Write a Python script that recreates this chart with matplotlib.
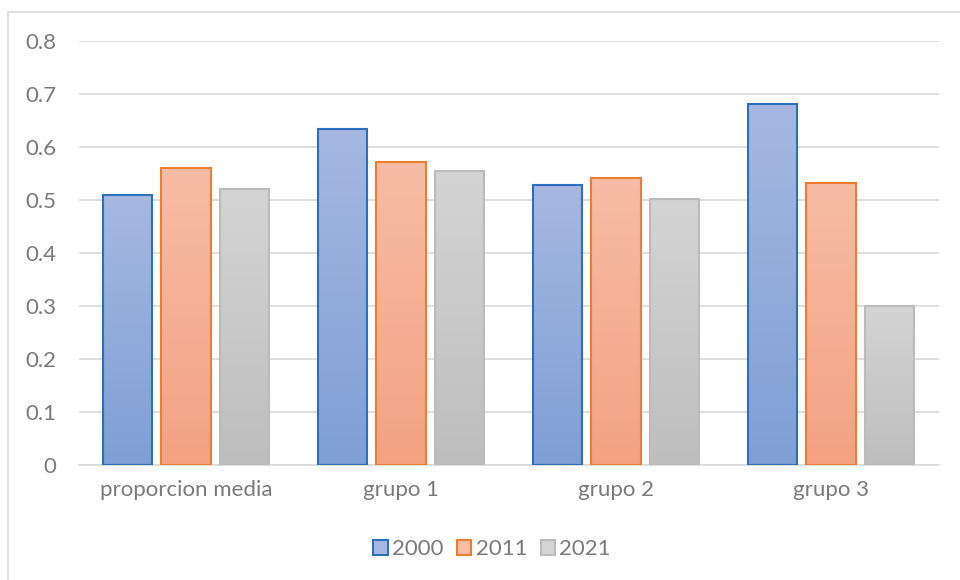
import numpy as np
import matplotlib
matplotlib.use("Agg")
import matplotlib.pyplot as plt
from matplotlib.colors import LinearSegmentedColormap
from matplotlib.patches import Rectangle

categories = ["proporcion media", "grupo 1", "grupo 2", "grupo 3"]
series_names = ["2000", "2011", "2021"]
v2000 = [0.51, 0.634, 0.528, 0.682]
v2011 = [0.56, 0.571, 0.542, 0.532]
v2021 = [0.52, 0.555, 0.501, 0.30]
y_ticks = [0, 0.1, 0.2, 0.3, 0.4, 0.5, 0.6, 0.7, 0.8]
y_tick_labels = ["0", "0.1", "0.2", "0.3", "0.4", "0.5", "0.6", "0.7", "0.8"]

values = [v2000, v2011, v2021]
top_colors = ["#A6B8E1", "#F7BCA6", "#D4D4D4"]
bot_colors = ["#7F9FD5", "#F3A283", "#BEBEBE"]
edge_colors = ["#2F6EBA", "#ED7D31", "#BBBBBB"]
text_color = "#7A7A7A"

plt.rcParams['font.family'] = ['Lato', 'DejaVu Sans']

fig = plt.figure(figsize=(9.6, 5.8), dpi=100)
ax = fig.add_axes([78.5/960, 1-465/580, 860/960, 424/580])

# outer border
fig.patches.append(Rectangle((8/960, -0.01), 1.02, 1 - 12/580 + 0.01,
                             transform=fig.transFigure, fill=False,
                             edgecolor="#D9D9D9", linewidth=1.2))

width = 0.228
step = 0.274
x = np.arange(len(categories))
grad = np.linspace(1, 0, 256).reshape(-1, 1)
for i, vals in enumerate(values):
    cmap = LinearSegmentedColormap.from_list("g%d" % i, [bot_colors[i], top_colors[i]])
    for j, v in enumerate(vals):
        x0 = x[j] + (i - 1) * step - width / 2
        ax.imshow(grad, extent=[x0, x0 + width, 0, v], cmap=cmap, aspect='auto',
                  vmin=0, vmax=1, zorder=2, interpolation='bilinear')
        ax.add_patch(Rectangle((x0, 0), width, v, fill=False,
                               edgecolor=edge_colors[i], linewidth=1.5, zorder=3))

ax.set_xlim(-0.5, len(categories) - 0.5)
ax.set_ylim(0, 0.8)
ax.set_aspect('auto')

ax.set_yticks(y_ticks)
ax.set_yticklabels(y_tick_labels)
ax.set_xticks(x)
ax.set_xticklabels(categories)
ax.yaxis.grid(True, color="#D9D9D9", linewidth=1.2, zorder=0)
ax.set_axisbelow(True)
for s in ["top", "right", "left"]:
    ax.spines[s].set_visible(False)
ax.spines["bottom"].set_color("#D9D9D9")
ax.spines["bottom"].set_linewidth(1.2)
ax.tick_params(axis='both', length=0, labelsize=16, labelcolor=text_color)
ax.tick_params(axis='y', pad=16)
ax.tick_params(axis='x', pad=11)

handles = [Rectangle((0, 0), 1, 1, facecolor=top_colors[i], edgecolor=edge_colors[i],
                     linewidth=1.5) for i in range(3)]
leg = fig.legend(handles, series_names, loc='center', bbox_to_anchor=(492/960, 1-549/580),
                 ncol=3, frameon=False, fontsize=16, handlelength=0.65, handleheight=0.65,
                 handletextpad=0.2, columnspacing=0.6)
for t in leg.get_texts():
    t.set_color(text_color)

fig.savefig("out.png", dpi=100)
